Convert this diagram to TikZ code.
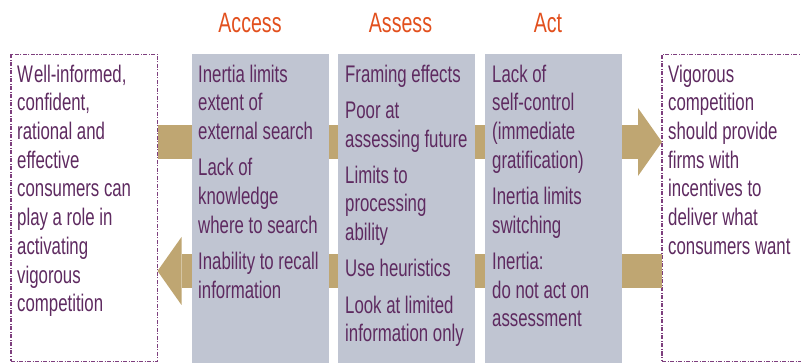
\documentclass[tikz,border=0pt]{standalone}
\usepackage{fontspec}
\setmainfont{Liberation Sans}[FakeStretch=0.7]
\usetikzlibrary{arrows.meta,positioning}

\definecolor{stagegrey}{HTML}{C0C5D2}
\definecolor{bandtan}{HTML}{BFA672}
\definecolor{inkpurple}{HTML}{5E2A60}
\definecolor{edgepurple}{HTML}{7E3F7E}
\definecolor{headred}{HTML}{E2501E}

\tikzset{
  stagecol/.style={fill=stagegrey,anchor=north west,inner sep=0pt,outer sep=0pt,
                   minimum width=137pt,minimum height=310pt},
  outcomebox/.style={draw=edgepurple,line width=1.2pt,
                     dash pattern=on 4pt off 1.5pt on 1pt off 1.5pt,
                     anchor=north west,inner sep=0pt,outer sep=0pt,minimum height=307pt},
  items/.style={anchor=north west,inner sep=0pt,align=left,text=inkpurple,
                font=\fontsize{24}{28.7}\selectfont},
  heading/.style={anchor=base,inner sep=0pt,text=headred,font=\fontsize{28}{30}\selectfont},
  band/.style={bandtan,line width=34pt,
               -{Triangle[width=68pt,length=24pt,line width=0pt]}}
}

\begin{document}
\begin{tikzpicture}[x=1pt,y=-1pt]
 \useasboundingbox (0,0) rectangle (801,363);
 % outer boxes
 \node[outcomebox,minimum width=146.5pt] (consumers) at (11,54.5) {};
 \node[outcomebox,minimum width=150pt] (firms) at (662,54.5) {};
 % the two bands run behind the columns
 \draw[band] ([yshift=66pt]consumers.east) -- ([yshift=66pt]firms.west);
 \draw[band] ([yshift=-63pt]firms.west) -- ([yshift=-63pt]consumers.east);
 % columns
 \node[stagecol] (access) at (191.5,54) {};
 \node[stagecol] (assess) at (338,54) {};
 \node[stagecol] (act) at (485,54) {};
 \node[heading] (accesshead) at (250,33) {Access};
 \node[heading] (assesshead) at (400.5,33) {Assess};
 \node[heading] (acthead) at (548,33) {Act};
 % texts
 \node[items] (consumerstext) at ([xshift=6pt,yshift=-7.4pt]consumers.north west)
   {\strut W\kern1pt ell-informed,\\confident,\\rational and\\effective\\consumers can\\play a role in\\activating\\vigorous\\competition};
 \node[items] (accesstext) at ([xshift=6.5pt,yshift=-7.9pt]access.north west)
   {\strut Inertia limits\\extent of\\external search\\[7.5pt]Lack of\\knowledge\\where to search\\[7.5pt]Inability to recall\\information};
 \node[items] (assesstext) at ([xshift=7pt,yshift=-7.9pt]assess.north west)
   {\strut Framing effects\\[7.5pt]Poor at\\assessing future\\[7.5pt]Limits to\\processing\\ability\\[7.5pt]Use heuristics\\[7.5pt]Look at limited\\information only};
 \node[items] (acttext) at ([xshift=7pt,yshift=-7.9pt]act.north west)
   {\strut Lack of\\self-control\\(immediate\\gratification)\\[7.5pt]Inertia limits\\switching\\[7.5pt]Inertia:\\do not act on\\assessment};
 \node[items] (firmstext) at ([xshift=6pt,yshift=-7.4pt]firms.north west)
   {\strut Vigorous\\competition\\should provide\\firms with\\incentives to\\deliver what\\consumers want};
\end{tikzpicture}
\end{document}
